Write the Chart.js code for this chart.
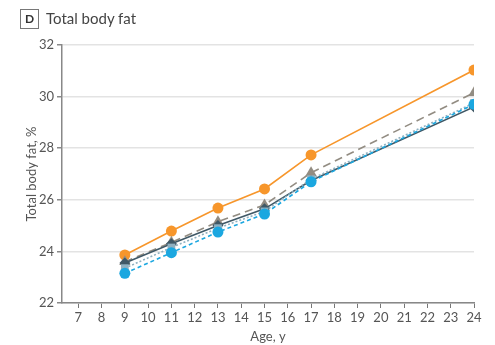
<!DOCTYPE html>
<html>
<head>
<meta charset="utf-8">
<script src="https://cdn.jsdelivr.net/npm/chart.js@4"></script>
<style>
  body { margin: 0; background: #fff; font-family: Lato, sans-serif; }
  #wrap { position: relative; width: 495px; height: 345px; }
  #badge { position: absolute; left: 20px; top: 9px; width: 17px; height: 18px; border: 1px solid #777; font-size: 12px; font-weight: bold; color: #333; text-align: center; line-height: 18px; }
  #title { position: absolute; left: 46px; top: 8px; font-size: 15px; color: #444; line-height: 20px; }
  #myChart { position: absolute; left: 0; top: 0; }
</style>
</head>
<body>
<div id="wrap">
  <canvas id="myChart" width="495" height="345"></canvas>
  <div id="badge">D</div>
  <div id="title">Total body fat</div>
</div>
<script>
const ages = [9, 11, 13, 15, 17, 24];
const xTicks = [7, 8, 9, 10, 11, 12, 13, 14, 15, 16, 17, 18, 19, 20, 21, 22, 23, 24];
const yTicks = [22, 24, 26, 28, 30, 32];

const orangeSeries = [23.86, 24.79, 25.68, 26.42, 27.74, 31.03];
const triangleSeries = [23.6, 24.35, 25.15, 25.8, 27.05, 30.15];
const diamondSeries = [23.55, 24.3, 25.0, 25.65, 26.75, 29.6];
const squareSeries = [23.35, 24.15, 24.9, 25.55, 26.8, 29.75];
const blueSeries = [23.15, 23.95, 24.75, 25.45, 26.7, 29.7];

function toPoints(values) {
  return values.map((v, i) => ({ x: ages[i], y: v }));
}

function makeSet(label, values, color, style, dash, radius) {
  return {
    label: label,
    data: toPoints(values),
    borderColor: color,
    backgroundColor: color,
    borderWidth: 1.6,
    borderDash: dash,
    pointStyle: style,
    pointRadius: radius,
    pointBorderWidth: 0,
  };
}

const tickFont = { family: "Lato, sans-serif", size: 13 };

new Chart(document.getElementById("myChart"), {
  type: "line",
  data: {
    datasets: [
      makeSet("Blue", blueSeries, "#1ba7e0", "circle", [4, 3], 5.5),
      makeSet("Square", squareSeries, "#8fb0c0", "rect", [2, 2], 5.5),
      makeSet("Diamond", diamondSeries, "#3f5866", "rectRot", [], 5.5),
      makeSet("Triangle", triangleSeries, "#928c82", "triangle", [8, 5], 6.5),
      makeSet("Orange", orangeSeries, "#f7962b", "circle", [], 5.5),
    ],
  },
  options: {
    responsive: false,
    animation: false,
    layout: { padding: { top: 45, right: 21, bottom: 0, left: 0 } },
    plugins: { legend: { display: false }, tooltip: { enabled: false } },
    scales: {
      x: {
        type: "linear",
        min: 6.3,
        max: 24,
        afterBuildTicks: (scale) => {
          scale.ticks = xTicks.map((v) => ({ value: v }));
        },
        afterFit: (scale) => {
          scale.height = 42;
        },
        grid: { drawOnChartArea: false, tickLength: 5, tickColor: "#777", color: "#777" },
        border: { color: "#888", width: 1.5 },
        ticks: { color: "#555", font: tickFont, padding: 2, maxRotation: 0, autoSkip: false },
        title: { display: true, text: "Age, y", color: "#555", font: tickFont, padding: { top: 6, bottom: 0 } },
      },
      y: {
        min: 22,
        max: 32,
        afterBuildTicks: (scale) => {
          scale.ticks = yTicks.map((v) => ({ value: v }));
        },
        afterFit: (scale) => {
          scale.width = 62;
        },
        grid: { color: "#e3e3e3", lineWidth: 1.5, tickLength: 5, tickColor: "#888" },
        border: { color: "#888", width: 1.5 },
        ticks: { color: "#555", font: tickFont, padding: 3 },
        title: { display: true, text: "Total body fat, %", color: "#555", font: tickFont, padding: { top: 24, bottom: 4 } },
      },
    },
  },
});
</script>
</body>
</html>
